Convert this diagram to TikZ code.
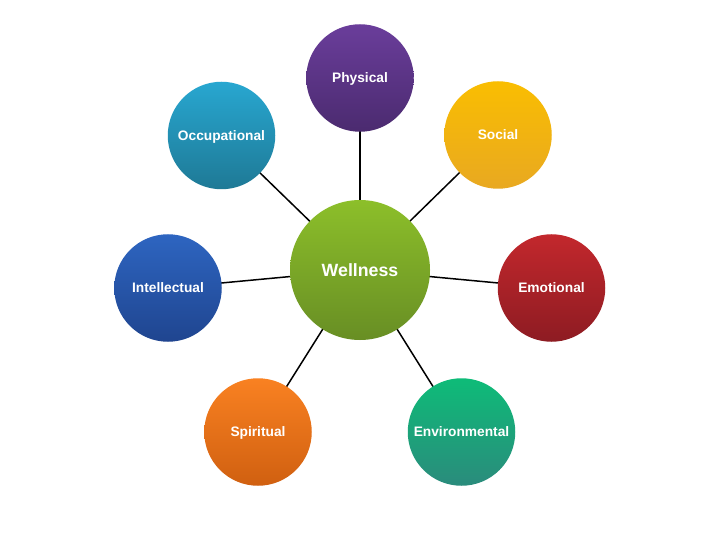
\documentclass[tikz,border=0pt]{standalone}
\usepackage{fontspec}
\setmainfont{Liberation Sans}
\usetikzlibrary{backgrounds}
\definecolor{physT}{HTML}{6B3E9C}\definecolor{physB}{HTML}{4A2A6E}
\definecolor{socT}{HTML}{FABE00}\definecolor{socB}{HTML}{E8A822}
\definecolor{emoT}{HTML}{C4282D}\definecolor{emoB}{HTML}{8C1B22}
\definecolor{envT}{HTML}{0DBD78}\definecolor{envB}{HTML}{2B8A7C}
\definecolor{spiT}{HTML}{FA8222}\definecolor{spiB}{HTML}{CF5F10}
\definecolor{intT}{HTML}{2E66C2}\definecolor{intB}{HTML}{1F448E}
\definecolor{occT}{HTML}{28A8D2}\definecolor{occB}{HTML}{1E7894}
\definecolor{welT}{HTML}{8DC02A}\definecolor{welB}{HTML}{678D24}
\tikzset{
  grad/.style 2 args={path picture={
    \shade[top color=#1, bottom color=#2]
      ([shift={(-3bp,-3bp)}]path picture bounding box.south west)
      rectangle ([shift={(3bp,3bp)}]path picture bounding box.north east);}},
  ball/.style={circle, inner sep=0pt, minimum size=107.5bp, text=white,
    text height=9.9bp, text depth=0bp,
    font=\fontsize{13.8}{16}\selectfont\bfseries},
  hub/.style={ball, minimum size=140bp, text height=12.7bp,
    font=\fontsize{17.8}{20}\selectfont\bfseries},
  link/.style={line width=1.5bp, black}
}
\begin{document}
\begin{tikzpicture}[x=1bp,y=-1bp]
\begin{pgfonlayer}{background}
\fill[white] (0,0) rectangle (720,540);
\end{pgfonlayer}
\useasboundingbox (0,0) rectangle (720,540);
\node[hub, grad={welT}{welB}] (wel) at (360,270) {Wellness};
\node[ball, grad={physT}{physB}] (phy) at (360,78) {Physical};
\node[ball, grad={socT}{socB}] (soc) at (498,135) {Social};
\node[ball, grad={emoT}{emoB}] (emo) at (551.5,288) {Emotional};
\node[ball, grad={envT}{envB}] (env) at (461.5,432) {Environmental};
\node[ball, grad={spiT}{spiB}] (spi) at (258,432) {Spiritual};
\node[ball, grad={intT}{intB}] (int) at (168,288) {Intellectual};
\node[ball, grad={occT}{occB}] (occ) at (221.5,135.5) {Occupational};
\begin{pgfonlayer}{background}
\foreach \n in {phy,soc,emo,env,spi,int,occ}
  \draw[link] (wel.center) -- (\n.center);
\end{pgfonlayer}
\end{tikzpicture}
\end{document}
